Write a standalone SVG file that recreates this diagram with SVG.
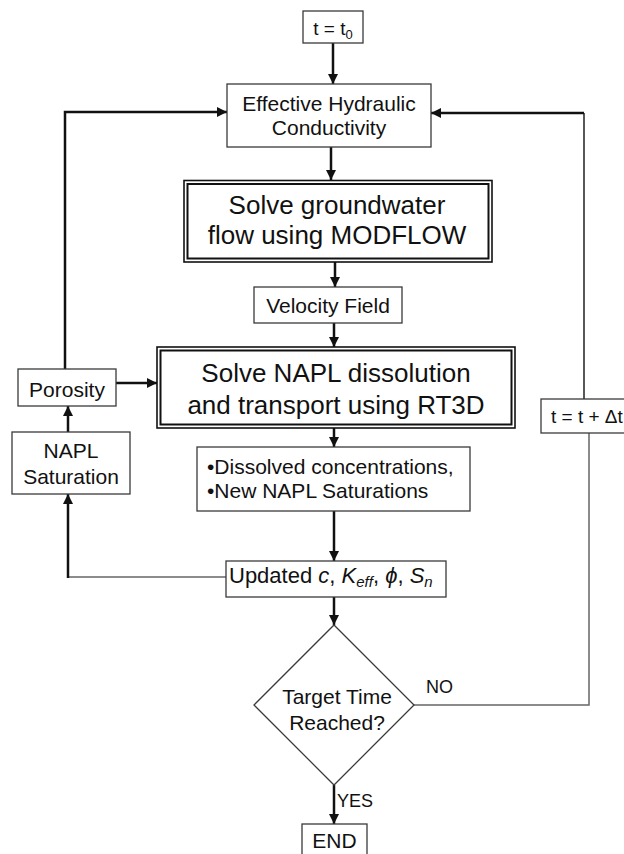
<svg xmlns="http://www.w3.org/2000/svg" width="624" height="854" viewBox="0 0 624 854">
<defs>
<marker id="ah" markerUnits="userSpaceOnUse" markerWidth="10" markerHeight="10" refX="9" refY="4.5" orient="auto" viewBox="0 0 9 9"><path d="M0,0 L9,4.5 L0,9 z" fill="#111"/></marker>
<style>
.box{fill:#fff;stroke:#3a3a3a;stroke-width:1.3}
.dbo{fill:#fff;stroke:#111;stroke-width:1.6}
.dbi{fill:none;stroke:#111;stroke-width:2}
text{font-family:"Liberation Sans",Arial,sans-serif;fill:#111}
.t21{font-size:21px}
.t26{font-size:26px}
.t18{font-size:18px}
.c{text-anchor:middle}
.k{fill:none;stroke:#111;stroke-width:2.5}
.kt{fill:none;stroke:#111;stroke-width:1.4}
.g{fill:none;stroke:#666;stroke-width:1.5}
</style>
</defs>
<rect width="624" height="854" fill="#fff"/>
<g id="connectors">
<path class="k" d="M333,43 V84" marker-end="url(#ah)"/>
<path class="k" d="M331,147 V180" marker-end="url(#ah)"/>
<path class="k" d="M335,262 V287" marker-end="url(#ah)"/>
<path class="k" d="M334,323 V347" marker-end="url(#ah)"/>
<path class="k" d="M334,428 V447" marker-end="url(#ah)"/>
<path class="k" d="M334,511 V561" marker-end="url(#ah)"/>
<path class="k" d="M334,597 V625" marker-end="url(#ah)"/>
<path class="k" d="M334,785 V824" marker-end="url(#ah)"/>
<path class="g" d="M226,577 H68"/>
<path class="k" d="M68,578 V494" marker-end="url(#ah)"/>
<path class="k" d="M68,432 V406" marker-end="url(#ah)"/>
<path class="k" d="M116,383 H157" marker-end="url(#ah)"/>
<path class="k" d="M65,369 V112 H227" marker-end="url(#ah)"/>
<path class="g" d="M414,705 H589 V433"/>
<path class="kt" d="M584,399 V113"/>
<path class="k" d="M584,113 H431" marker-end="url(#ah)"/>
<text class="t18" x="426" y="693">NO</text>
<text class="t18" x="337" y="807">YES</text>
</g>
<g id="start">
<rect class="box" x="303" y="11" width="60" height="32"/>
<text class="c" x="333" y="35" font-size="19">t = t<tspan font-size="13" dy="4">0</tspan></text>
</g>
<g id="conductivity">
<rect class="box" x="227" y="84" width="204" height="63"/>
<text class="t21 c" x="329" y="111">Effective Hydraulic</text>
<text class="t21 c" x="329" y="135">Conductivity</text>
</g>
<g id="modflow">
<rect class="dbo" x="184" y="180.5" width="308" height="81.5"/>
<rect class="dbi" x="187.5" y="184" width="301" height="74.5"/>
<text class="t26 c" x="337" y="214">Solve groundwater</text>
<text class="t26 c" x="337" y="244">flow using MODFLOW</text>
</g>
<g id="velocity">
<rect class="box" x="254" y="287" width="148" height="36"/>
<text class="t21 c" x="328" y="313">Velocity Field</text>
</g>
<g id="rt3d">
<rect class="dbo" x="157" y="347" width="358" height="81"/>
<rect class="dbi" x="160.5" y="350.5" width="351" height="74"/>
<text class="t26 c" x="336" y="382">Solve NAPL dissolution</text>
<text class="t26 c" x="336" y="414">and transport using RT3D</text>
</g>
<g id="porosity">
<rect class="box" x="18" y="369" width="98" height="37"/>
<text class="t21 c" x="67" y="397">Porosity</text>
</g>
<g id="napl-saturation">
<rect class="box" x="12" y="432" width="118" height="62"/>
<text class="t21 c" x="71" y="458">NAPL</text>
<text class="t21 c" x="71" y="484">Saturation</text>
</g>
<g id="dissolved">
<rect class="box" x="197" y="447" width="273" height="64"/>
<text class="t21" x="207" y="474">•Dissolved concentrations,</text>
<text class="t21" x="207" y="498">•New NAPL Saturations</text>
</g>
<g id="updated">
<rect class="box" x="226" y="561" width="220" height="36"/>
<text x="229" y="583" font-size="22">Updated <tspan font-style="italic">c</tspan>, <tspan font-style="italic">K</tspan><tspan font-style="italic" font-size="15" dy="4">eff</tspan><tspan dy="-4">, </tspan><tspan font-style="italic">ϕ</tspan>, <tspan font-style="italic">S</tspan><tspan font-style="italic" font-size="15" dy="4">n</tspan></text>
</g>
<g id="decision">
<polygon class="box" points="334,625 414,705 334,785 254,705"/>
<text class="t21 c" x="337" y="704">Target Time</text>
<text class="t21 c" x="337" y="730">Reached?</text>
</g>
<g id="end">
<rect class="box" x="302" y="824" width="65" height="36"/>
<text class="t21 c" x="334.5" y="848">END</text>
</g>
<g id="increment">
<rect class="box" x="541" y="399" width="90" height="34"/>
<text x="551" y="423" font-size="19">t = t + Δt</text>
</g>
</svg>
